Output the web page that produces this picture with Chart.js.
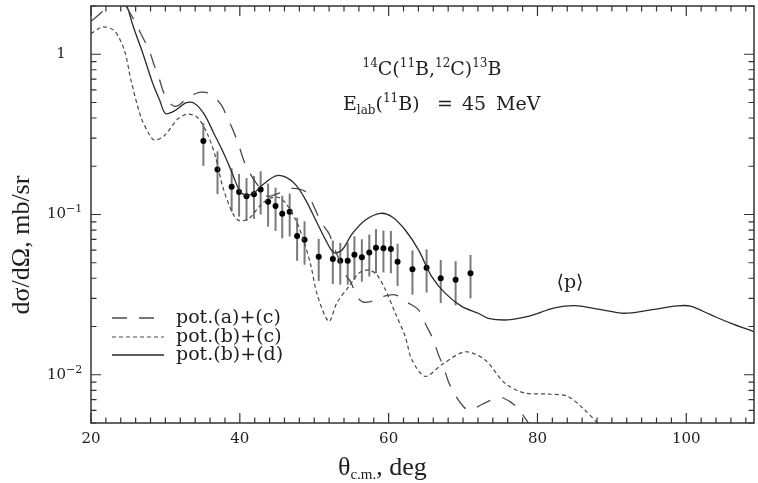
<!DOCTYPE html>
<html>
<head>
<meta charset="utf-8">
<script src="https://cdn.jsdelivr.net/npm/chart.js@4.4.0/dist/chart.umd.min.js"></script>
<style>
  html, body { margin: 0; padding: 0; background: #fff; }
</style>
</head>
<body>
<canvas id="chart" width="758" height="483"></canvas>
<script>
// 14C(11B,12C)13B angular distribution, E_lab = 45 MeV

// experimental points (theta c.m. in deg, dsigma/dOmega in mb/sr)
const expTheta = [35.1, 37.0, 38.9, 39.9, 40.9, 41.9, 42.8, 43.8, 44.8, 45.7, 46.7, 47.7, 48.7,
  50.6, 52.5, 53.5, 54.5, 55.4, 56.4, 57.4, 58.3, 59.3, 60.3, 61.2, 63.2, 65.1, 67.0, 69.0, 71.0];
const expSigma = [0.287, 0.191, 0.149, 0.138, 0.130, 0.134, 0.143, 0.120, 0.113, 0.101, 0.104, 0.0734, 0.0696,
  0.0545, 0.0528, 0.0515, 0.0515, 0.056, 0.0541, 0.0580, 0.0620, 0.0615, 0.0610, 0.0508, 0.0456, 0.0466, 0.0400, 0.0391, 0.0430];
const expError = [0.086, 0.057, 0.045, 0.041, 0.039, 0.040, 0.043, 0.036, 0.034, 0.030, 0.031, 0.022, 0.021,
  0.016, 0.016, 0.015, 0.015, 0.017, 0.016, 0.017, 0.019, 0.018, 0.018, 0.015, 0.014, 0.014, 0.012, 0.012, 0.013];

// pot.(a)+(c)  long dashes
const potACTheta = [20.04, 21.38, 22.2, 23.5, 24.95, 25.85, 26.96, 27.85, 28.52, 29.19, 29.77, 30.74, 31.5,
  32.54, 34.09, 35.12, 36.09, 37.43, 38.33, 39.22, 39.89, 40.56, 41.5, 42.38, 43.68, 45.28, 47.06, 48.86,
  49.97, 50.86, 51.97, 52.64, 53.54, 54.21, 54.88, 55.76, 56.5, 57.55, 59.1, 60.9, 62.68, 64.01, 65.12,
  66.02, 66.69, 67.36, 68.03, 68.92, 70.03, 70.7, 71.6, 73.38, 74.45, 75.39, 77.16, 78.46, 79.4];
const potACSigma = [1.612, 1.82, 2.05, 2.4, 1.908, 1.612, 1.271, 1.048, 0.846, 0.699, 0.577, 0.488, 0.474,
  0.512, 0.569, 0.580, 0.563, 0.488, 0.403, 0.325, 0.268, 0.216, 0.176, 0.153, 0.130, 0.136, 0.1456, 0.1387,
  0.112, 0.0902, 0.0763, 0.0630, 0.0497, 0.0420, 0.0381, 0.0307, 0.0285, 0.0286, 0.0307, 0.0315, 0.028, 0.0254, 0.0200,
  0.01652, 0.01333, 0.01127, 0.00909, 0.0075, 0.00634, 0.00605, 0.0062, 0.00683, 0.00709, 0.00716, 0.00634, 0.00525, 0.00454];

// pot.(b)+(c)  short dashes
const potBCTheta = [20.0, 21.61, 23.17, 24.51, 25.39, 26.73, 27.89, 28.52, 29.86, 31.64, 32.98, 34.31, 35.65,
  36.76, 37.7, 39.04, 39.93, 41.27, 42.61, 43.95, 45.28, 46.18, 47.52, 48.63, 49.53, 50.41, 51.97, 53.04,
  54.65, 55.99, 57.32, 58.43, 59.56, 60.9, 62.23, 63.12, 64.91, 67.13, 70.26, 72.94, 75.61, 78.29, 81.4,
  84.08, 86.31, 88.09, 89.0];
const potBCSigma = [1.346, 1.48, 1.397, 1.048, 0.682, 0.403, 0.313, 0.291, 0.310, 0.394, 0.423, 0.403, 0.318,
  0.227, 0.149, 0.1017, 0.0915, 0.0947, 0.112, 0.126, 0.1276, 0.1174, 0.0924, 0.0677, 0.0485, 0.0315, 0.0215, 0.0281,
  0.0355, 0.0430, 0.0451, 0.0420, 0.0339, 0.0242, 0.01733, 0.0124, 0.00976, 0.01154, 0.0139, 0.0124, 0.00888, 0.00769, 0.00758,
  0.00733, 0.00605, 0.0050, 0.0045];

// pot.(b)+(d)  solid
const potBDTheta = [24.5, 24.95, 25.62, 26.96, 28.29, 29.23, 29.99, 31.2, 32.75, 33.87, 35.21, 36.55, 37.89,
  38.82, 39.93, 40.83, 41.94, 43.05, 44.84, 46.18, 47.52, 48.86, 50.19, 51.53, 52.64, 53.75, 55.09, 56.88,
  58.89, 60.44, 62.23, 64.01, 65.79, 67.59, 69.81, 72.04, 73.38, 76.05, 78.73, 82.3, 84.98, 88.09, 91.66,
  95.22, 98.8, 100.57, 103.25, 105.93, 109.06];
const potBDSigma = [2.1, 1.927, 1.516, 1.014, 0.660, 0.517, 0.427, 0.443, 0.497, 0.495, 0.423, 0.318, 0.238,
  0.189, 0.142, 0.132, 0.137, 0.153, 0.174, 0.171, 0.153, 0.123, 0.0924, 0.0694, 0.0578, 0.0601, 0.0756, 0.0924,
  0.1017, 0.0969, 0.080, 0.0601, 0.0410, 0.0323, 0.0267, 0.0242, 0.0225, 0.0220, 0.0231, 0.0261, 0.0270, 0.0257, 0.0242,
  0.0254, 0.0269, 0.0268, 0.0237, 0.0210, 0.0186];

const seriesLabels = ['pot.(a)+(c)', 'pot.(b)+(c)', 'pot.(b)+(d)'];
const yMajorTicks = [1, 0.1, 0.01];
const yMajorExps = ['', '\u22121', '\u22122'];

const ink = '#1e1e1e';
const serif = "'DejaVu Serif', serif";
const times = "'Liberation Serif', 'Times New Roman', serif";

function toPoints(xs, ys) {
  return xs.map((x, i) => ({ x, y: ys[i] }));
}

// draws a run of text pieces (size, vertical shift) left to right, returns end x
function drawRich(ctx, x, y, parts, family) {
  parts.forEach(p => {
    ctx.font = `${p.size}px ${family}`;
    ctx.fillText(p.t, x, y + (p.dy || 0));
    x += ctx.measureText(p.t).width;
  });
  return x;
}

function richWidth(ctx, parts, family) {
  let w = 0;
  parts.forEach(p => {
    ctx.font = `${p.size}px ${family}`;
    w += ctx.measureText(p.t).width;
  });
  return w;
}

const errorBarPlugin = {
  id: 'errorBars',
  beforeDatasetsDraw(chart) {
    const { ctx, chartArea, scales: { x, y } } = chart;
    ctx.save();
    ctx.beginPath();
    ctx.rect(chartArea.left, chartArea.top, chartArea.right - chartArea.left, chartArea.bottom - chartArea.top);
    ctx.clip();
    ctx.strokeStyle = '#7a7a7a';
    ctx.lineWidth = 2;
    expTheta.forEach((t, i) => {
      const px = x.getPixelForValue(t);
      const top = y.getPixelForValue(expSigma[i] + expError[i]);
      const bot = y.getPixelForValue(expSigma[i] - expError[i]);
      ctx.beginPath();
      ctx.moveTo(px, top);
      ctx.lineTo(px, bot);
      ctx.stroke();
    });
    ctx.restore();
  }
};

const framePlugin = {
  id: 'frame',
  afterDraw(chart) {
    const { ctx, chartArea: a, scales: { x, y } } = chart;
    ctx.save();
    ctx.strokeStyle = '#333';
    ctx.lineWidth = 1.5;
    ctx.strokeRect(a.left, a.top, a.right - a.left, a.bottom - a.top);

    // inward ticks
    ctx.lineWidth = 1.2;
    ctx.beginPath();
    for (let v = 20; v <= x.max; v += 2) {
      const px = x.getPixelForValue(v);
      const len = v % 20 === 0 ? 10 : 5.5;
      ctx.moveTo(px, a.bottom); ctx.lineTo(px, a.bottom - len);
      ctx.moveTo(px, a.top); ctx.lineTo(px, a.top + len);
    }
    for (let d = -3; d <= 0; d++) {
      for (let m = 1; m <= 9; m++) {
        const v = m * Math.pow(10, d);
        if (v < y.min || v > y.max) continue;
        const py = y.getPixelForValue(v);
        const len = m === 1 ? 10 : 5.5;
        ctx.moveTo(a.left, py); ctx.lineTo(a.left + len, py);
        ctx.moveTo(a.right, py); ctx.lineTo(a.right - len, py);
      }
    }
    ctx.stroke();

    // y tick labels
    ctx.fillStyle = ink;
    ctx.textBaseline = 'middle';
    yMajorTicks.forEach((v, i) => {
      const py = y.getPixelForValue(v);
      if (yMajorExps[i] === '') {
        ctx.font = `15px ${serif}`;
        ctx.textAlign = 'center';
        ctx.fillText('1', 61, py);
      } else {
        ctx.textAlign = 'left';
        drawRich(ctx, 47, py, [{ t: '10', size: 15 }, { t: yMajorExps[i], size: 11, dy: -5 }], serif);
      }
    });

    // axis titles
    ctx.textAlign = 'left';
    ctx.textBaseline = 'alphabetic';
    drawRich(ctx, 338, 475, [
      { t: '\u03b8', size: 26 },
      { t: 'c.m.', size: 15, dy: 4 },
      { t: ', deg', size: 26 }
    ], times);

    ctx.save();
    ctx.translate(29, 245);
    ctx.rotate(-Math.PI / 2);
    ctx.font = `26px ${times}`;
    ctx.textAlign = 'center';
    ctx.fillText('d\u03c3/d\u03a9, mb/sr', 0, 0);
    ctx.restore();

    // reaction annotations
    ctx.textAlign = 'left';
    const reaction = [
      { t: '14', size: 12, dy: -8 }, { t: 'C(', size: 19 },
      { t: '11', size: 12, dy: -8 }, { t: 'B,', size: 19 },
      { t: '12', size: 12, dy: -8 }, { t: 'C)', size: 19 },
      { t: '13', size: 12, dy: -8 }, { t: 'B', size: 19 }
    ];
    const rw = richWidth(ctx, reaction, serif);
    drawRich(ctx, 432 - rw / 2, 75, reaction, serif);

    drawRich(ctx, 343, 110, [
      { t: 'E', size: 19 }, { t: 'lab', size: 12, dy: 4 },
      { t: '(', size: 19 }, { t: '11', size: 12, dy: -8 }, { t: 'B)', size: 19 }
    ], serif);
    ctx.font = `19px ${serif}`;
    ctx.fillText('=', 437, 110);
    ctx.fillText('45', 462, 110);
    ctx.fillText('MeV', 496, 110);

    ctx.textAlign = 'center';
    ctx.fillText('\u27e8p\u27e9', 570, 288);

    // legend inside the plot
    const rows = [318, 337, 355];
    chart.data.datasets.slice(0, 3).forEach((ds, i) => {
      ctx.strokeStyle = ds.borderColor;
      ctx.lineWidth = ds.borderWidth;
      ctx.setLineDash(ds.borderDash || []);
      ctx.beginPath();
      ctx.moveTo(112, rows[i]);
      ctx.lineTo(164, rows[i]);
      ctx.stroke();
      ctx.setLineDash([]);
      ctx.font = `19px ${serif}`;
      ctx.textAlign = 'left';
      ctx.textBaseline = 'middle';
      ctx.fillText(ds.label, 176, rows[i]);
    });
    ctx.restore();
  }
};

const ctx = document.getElementById('chart');

new Chart(ctx, {
  type: 'line',
  data: {
    datasets: [
      {
        label: seriesLabels[0],
        data: toPoints(potACTheta, potACSigma),
        borderColor: '#4a4a4a',
        borderWidth: 1.3,
        borderDash: [15, 12],
        pointRadius: 0,
        tension: 0.3,
        fill: false
      },
      {
        label: seriesLabels[1],
        data: toPoints(potBCTheta, potBCSigma),
        borderColor: '#4a4a4a',
        borderWidth: 1.2,
        borderDash: [4, 3],
        pointRadius: 0,
        tension: 0.3,
        fill: false
      },
      {
        label: seriesLabels[2],
        data: toPoints(potBDTheta, potBDSigma),
        borderColor: '#2a2a2a',
        borderWidth: 1.3,
        pointRadius: 0,
        tension: 0.3,
        fill: false
      },
      {
        type: 'scatter',
        label: 'exp',
        data: toPoints(expTheta, expSigma),
        showLine: false,
        pointRadius: 3,
        pointBackgroundColor: '#000',
        pointBorderWidth: 0
      }
    ]
  },
  options: {
    responsive: false,
    animation: false,
    devicePixelRatio: 1,
    layout: { padding: { top: 6, right: 1, left: 0, bottom: 0 } },
    plugins: {
      legend: { display: false },
      tooltip: { enabled: false }
    },
    scales: {
      x: {
        type: 'linear',
        min: 20,
        max: 109.1,
        afterFit: s => { s.height = 60; },
        grid: { display: false, drawTicks: false },
        border: { display: false },
        ticks: {
          stepSize: 20,
          includeBounds: false,
          padding: 7,
          maxRotation: 0,
          color: ink,
          font: { family: serif, size: 15 }
        }
      },
      y: {
        type: 'logarithmic',
        min: 0.005,
        max: 2,
        afterFit: s => { s.width = 91; },
        grid: { display: false, drawTicks: false },
        border: { display: false },
        ticks: { display: false }
      }
    }
  },
  plugins: [errorBarPlugin, framePlugin]
});
</script>
</body>
</html>
